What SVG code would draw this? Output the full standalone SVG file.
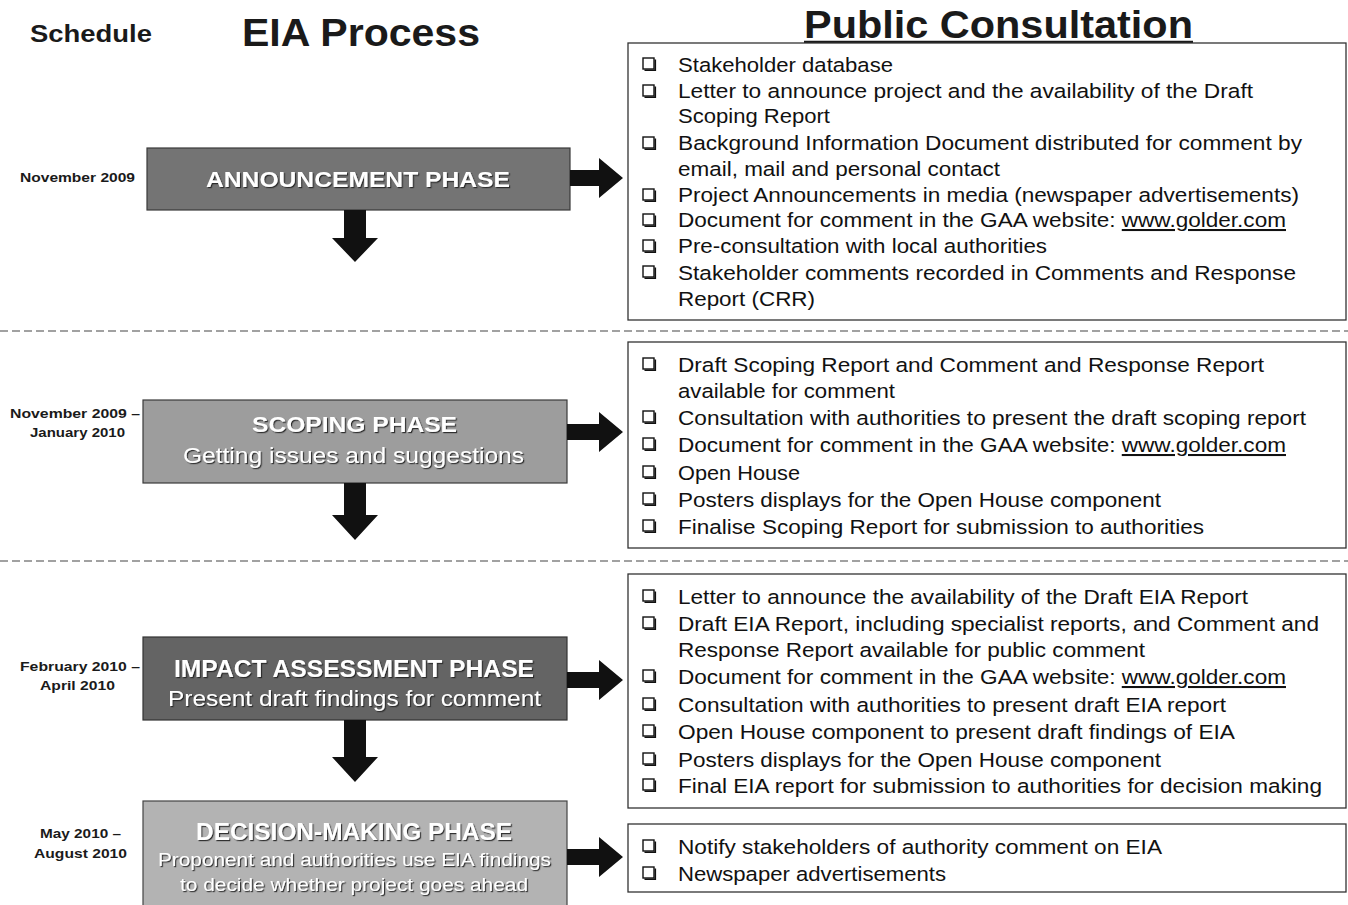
<svg xmlns="http://www.w3.org/2000/svg" xmlns:xlink="http://www.w3.org/1999/xlink" width="1348" height="905" viewBox="0 0 1348 905">
<style>
.hdr{font-family:"Liberation Sans",Arial,sans-serif;font-weight:bold;fill:#1a1a1a}
.date{font-family:"Liberation Sans",Arial,sans-serif;font-weight:bold;font-size:13.5px;fill:#1a1a1a}
.ph{font-family:"Liberation Sans",Arial,sans-serif;fill:#ffffff;filter:url(#sh)}
.phb{font-weight:bold}
.box{fill:#ffffff;stroke:#333;stroke-width:1.3}
.it{font-family:"Liberation Sans",Arial,sans-serif;font-size:20.5px;fill:#111}
.url{text-decoration:underline}
.dash{stroke:#444;stroke-width:1.2;stroke-dasharray:8 4;fill:none}
.arr{fill:#111}
</style>
<defs>
<filter id="sh" x="-10%" y="-30%" width="120%" height="160%">
<feDropShadow dx="1.2" dy="1.2" stdDeviation="0.6" flood-color="#222" flood-opacity="0.9"/>
</filter>
<g id="cb">
<rect x="0" y="0" width="11" height="11" fill="#fff" stroke="#111" stroke-width="1.4"/>
<path d="M1.5 12.3 H12.3 V1.5" fill="none" stroke="#111" stroke-width="1.6"/>
</g>
</defs>
<rect width="1348" height="905" fill="#ffffff"/>

<g id="headers">
<text class="hdr" x="30" y="42" font-size="23" textLength="122" lengthAdjust="spacingAndGlyphs">Schedule</text>
<text class="hdr" x="242" y="46" font-size="38" textLength="238" lengthAdjust="spacingAndGlyphs">EIA Process</text>
<text class="hdr" x="804" y="38" font-size="38" textLength="389" lengthAdjust="spacingAndGlyphs">Public Consultation</text>
<line x1="804" y1="42" x2="1193" y2="42" stroke="#1a1a1a" stroke-width="2.5"/>
</g>

<g id="separators">
<line class="dash" x1="0" y1="331" x2="1348" y2="331"/>
<line class="dash" x1="0" y1="561" x2="1348" y2="561"/>
</g>

<g id="dates">
<text class="date" x="20" y="182" textLength="115" lengthAdjust="spacingAndGlyphs">November 2009</text>
<text class="date" x="10" y="418" textLength="130" lengthAdjust="spacingAndGlyphs">November 2009 –</text>
<text class="date" x="30" y="437" textLength="95" lengthAdjust="spacingAndGlyphs">January 2010</text>
<text class="date" x="20" y="671" textLength="120" lengthAdjust="spacingAndGlyphs">February 2010 –</text>
<text class="date" x="40" y="690" textLength="75" lengthAdjust="spacingAndGlyphs">April 2010</text>
<text class="date" x="40" y="838" textLength="81" lengthAdjust="spacingAndGlyphs">May 2010 –</text>
<text class="date" x="34" y="858" textLength="93" lengthAdjust="spacingAndGlyphs">August 2010</text>
</g>

<g id="announcement-phase">
<rect x="147" y="148" width="423" height="62" fill="#747474" stroke="#3a3a3a" stroke-width="1.2"/>
<text class="ph phb" x="206" y="187" font-size="22" textLength="304" lengthAdjust="spacingAndGlyphs">ANNOUNCEMENT PHASE</text>
</g>

<g id="scoping-phase">
<rect x="143" y="400" width="424" height="83" fill="#9d9d9d" stroke="#3a3a3a" stroke-width="1.2"/>
<text class="ph phb" x="252" y="432" font-size="22" textLength="205" lengthAdjust="spacingAndGlyphs">SCOPING PHASE</text>
<text class="ph" x="183" y="463" font-size="22" textLength="341" lengthAdjust="spacingAndGlyphs">Getting issues and suggestions</text>
</g>

<g id="impact-assessment-phase">
<rect x="143" y="637" width="424" height="83" fill="#646464" stroke="#333" stroke-width="1.2"/>
<text class="ph phb" x="174" y="677" font-size="24" textLength="360" lengthAdjust="spacingAndGlyphs">IMPACT ASSESSMENT PHASE</text>
<text class="ph" x="168" y="706" font-size="22" textLength="373" lengthAdjust="spacingAndGlyphs">Present draft findings for comment</text>
</g>

<g id="decision-making-phase">
<rect x="143" y="801" width="424" height="110" fill="#b3b3b3" stroke="#444" stroke-width="1.2"/>
<text class="ph phb" x="196" y="840" font-size="24" textLength="316" lengthAdjust="spacingAndGlyphs">DECISION-MAKING PHASE</text>
<text class="ph" x="158" y="866" font-size="19" textLength="393" lengthAdjust="spacingAndGlyphs">Proponent and authorities use EIA findings</text>
<text class="ph" x="180" y="891" font-size="19" textLength="348" lengthAdjust="spacingAndGlyphs">to decide whether project goes ahead</text>
</g>

<g id="consultation-announcement">
<rect class="box" x="628" y="43" width="718" height="277"/>
<use xlink:href="#cb" x="643" y="58"/>
<use xlink:href="#cb" x="643" y="85"/>
<use xlink:href="#cb" x="643" y="137"/>
<use xlink:href="#cb" x="643" y="189"/>
<use xlink:href="#cb" x="643" y="214"/>
<use xlink:href="#cb" x="643" y="240"/>
<use xlink:href="#cb" x="643" y="266"/>
<text class="it" x="678" y="72" textLength="215" lengthAdjust="spacingAndGlyphs">Stakeholder database</text>
<text class="it" x="678" y="98" textLength="575" lengthAdjust="spacingAndGlyphs">Letter to announce  project and the availability of the Draft</text>
<text class="it" x="678" y="123" textLength="152" lengthAdjust="spacingAndGlyphs">Scoping Report</text>
<text class="it" x="678" y="150" textLength="624" lengthAdjust="spacingAndGlyphs">Background Information Document distributed for comment by</text>
<text class="it" x="678" y="176" textLength="322" lengthAdjust="spacingAndGlyphs">email, mail and personal contact</text>
<text class="it" x="678" y="202" textLength="621" lengthAdjust="spacingAndGlyphs">Project Announcements in media (newspaper advertisements)</text>
<text class="it" x="678" y="227" textLength="608" lengthAdjust="spacingAndGlyphs">Document for comment in the GAA website: <tspan class="url">www.golder.com</tspan></text>
<text class="it" x="678" y="253" textLength="369" lengthAdjust="spacingAndGlyphs">Pre-consultation with local authorities</text>
<text class="it" x="678" y="280" textLength="618" lengthAdjust="spacingAndGlyphs">Stakeholder comments recorded in Comments and Response</text>
<text class="it" x="678" y="306" textLength="137" lengthAdjust="spacingAndGlyphs">Report (CRR)</text>
</g>

<g id="consultation-scoping">
<rect class="box" x="628" y="342" width="718" height="206"/>
<use xlink:href="#cb" x="643" y="358"/>
<use xlink:href="#cb" x="643" y="411"/>
<use xlink:href="#cb" x="643" y="438"/>
<use xlink:href="#cb" x="643" y="466"/>
<use xlink:href="#cb" x="643" y="493"/>
<use xlink:href="#cb" x="643" y="520"/>
<text class="it" x="678" y="372" textLength="586" lengthAdjust="spacingAndGlyphs">Draft Scoping Report and Comment and Response Report</text>
<text class="it" x="678" y="398" textLength="217" lengthAdjust="spacingAndGlyphs">available for comment</text>
<text class="it" x="678" y="425" textLength="628" lengthAdjust="spacingAndGlyphs">Consultation with authorities to present the draft scoping report</text>
<text class="it" x="678" y="452" textLength="608" lengthAdjust="spacingAndGlyphs">Document for comment in the GAA website: <tspan class="url">www.golder.com</tspan></text>
<text class="it" x="678" y="480" textLength="122" lengthAdjust="spacingAndGlyphs">Open House</text>
<text class="it" x="678" y="507" textLength="483" lengthAdjust="spacingAndGlyphs">Posters displays for the Open House component</text>
<text class="it" x="678" y="534" textLength="526" lengthAdjust="spacingAndGlyphs">Finalise Scoping Report for submission to authorities</text>
</g>

<g id="consultation-impact">
<rect class="box" x="628" y="574" width="718" height="234"/>
<use xlink:href="#cb" x="643" y="590"/>
<use xlink:href="#cb" x="643" y="617"/>
<use xlink:href="#cb" x="643" y="670"/>
<use xlink:href="#cb" x="643" y="698"/>
<use xlink:href="#cb" x="643" y="725"/>
<use xlink:href="#cb" x="643" y="753"/>
<use xlink:href="#cb" x="643" y="779"/>
<text class="it" x="678" y="604" textLength="570" lengthAdjust="spacingAndGlyphs">Letter to announce  the availability of the Draft EIA Report</text>
<text class="it" x="678" y="631" textLength="641" lengthAdjust="spacingAndGlyphs">Draft EIA Report, including specialist reports, and Comment and</text>
<text class="it" x="678" y="657" textLength="467" lengthAdjust="spacingAndGlyphs">Response Report available for public comment</text>
<text class="it" x="678" y="684" textLength="608" lengthAdjust="spacingAndGlyphs">Document for comment in the GAA website: <tspan class="url">www.golder.com</tspan></text>
<text class="it" x="678" y="712" textLength="548" lengthAdjust="spacingAndGlyphs">Consultation with authorities to present draft EIA report</text>
<text class="it" x="678" y="739" textLength="557" lengthAdjust="spacingAndGlyphs">Open House component  to present draft findings of EIA</text>
<text class="it" x="678" y="767" textLength="483" lengthAdjust="spacingAndGlyphs">Posters displays for the Open House component</text>
<text class="it" x="678" y="793" textLength="644" lengthAdjust="spacingAndGlyphs">Final EIA report for submission to authorities for decision making</text>
</g>

<g id="consultation-decision">
<rect class="box" x="628" y="824" width="718" height="68"/>
<use xlink:href="#cb" x="643" y="840"/>
<use xlink:href="#cb" x="643" y="867"/>
<text class="it" x="678" y="854" textLength="484" lengthAdjust="spacingAndGlyphs">Notify stakeholders of authority comment on EIA</text>
<text class="it" x="678" y="881" textLength="268" lengthAdjust="spacingAndGlyphs">Newspaper advertisements</text>
</g>

<g id="connectors">
<path class="arr" d="M570 170 L599 170 L599 158 L623 178 L599 198 L599 186 L570 186 Z"/>
<path class="arr" d="M567 424 L599 424 L599 412 L623 432 L599 452 L599 440 L567 440 Z"/>
<path class="arr" d="M567 672 L599 672 L599 660 L623 680 L599 700 L599 688 L567 688 Z"/>
<path class="arr" d="M567 849 L599 849 L599 837 L623 857 L599 877 L599 865 L567 865 Z"/>
<path class="arr" d="M344 210 L366 210 L366 238 L378 238 L355 262 L332 238 L344 238 Z"/>
<path class="arr" d="M344 483 L366 483 L366 515 L378 515 L355 540 L332 515 L344 515 Z"/>
<path class="arr" d="M344 720 L366 720 L366 757 L378 757 L355 782 L332 757 L344 757 Z"/>
</g>
</svg>
